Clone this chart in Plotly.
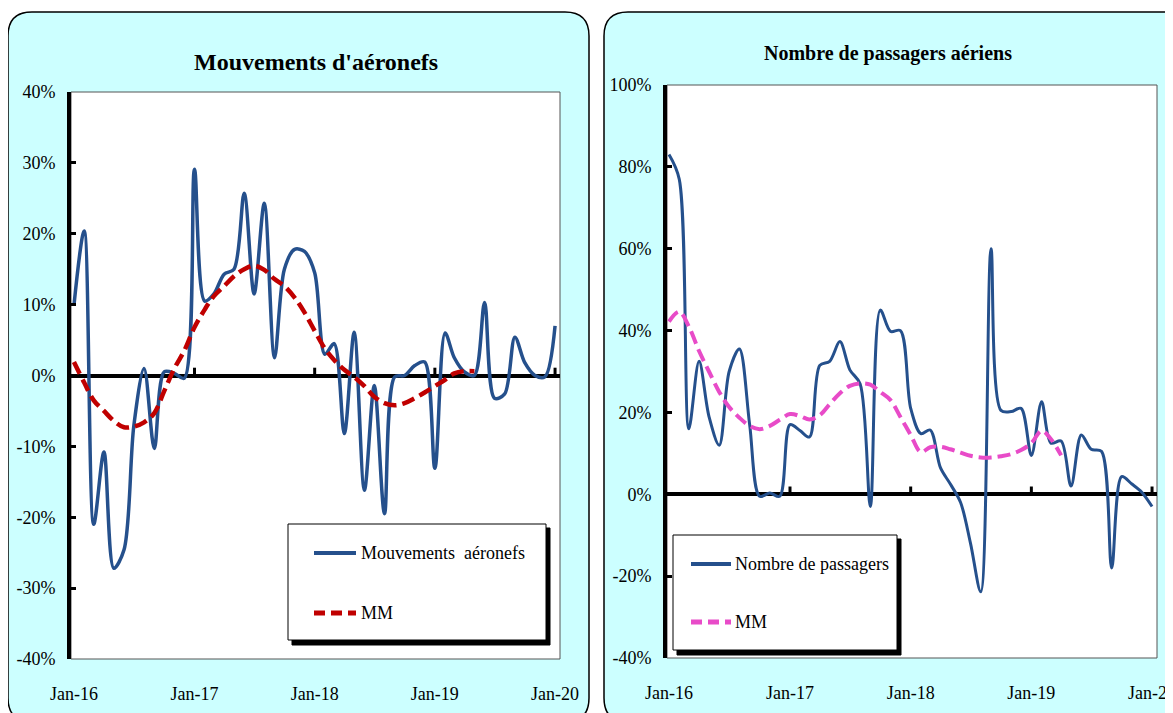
import plotly.graph_objects as go
import pandas as pd

W, H = 1173, 713
OFF = 8  # page margin around the plot div

# monthly dates Jan-16 .. Jan-20
months = pd.date_range("2016-01-01", "2020-01-01", freq="MS")

# Mouvements d'aéronefs, glissement annuel (%)
mouvements = [9.9, 20.4, -21, -10.8, -27.2, -24.6, -7, 1, -10.3, 0.5, 0.3, -0.4,
              29.1, 10.5, 11.5, 14.3, 15, 25.7, 11.5, 24.3, 2.5, 15, 17.8, 17.5,
              14.5, 3, 4.5, -8.2, 6.1, -16.2, -1.4, -19.5, -0.2, 0, 1.4, 1.9,
              -13.1, 6, 2.5, 0.5, 0, 10.3, -3.2, -2.6, 5.4, 1.8, 0, -0.2, 7]
mm_mouvements = [1.9, -1, -3.5, -5, -6.4, -7.3, -7.2, -6.6, -5.3, -2.2, 1, 3.5,
                 6.8, 9.3, 11.2, 12.6, 14, 15, 15.5, 14.9, 13.6, 12.6, 11, 8.9,
                 6.3, 3.8, 2.2, 0.8, -0.2, -1.5, -3, -3.9, -4.2, -3.9, -3.2, -2.4,
                 -1.5, -0.6, 0.3, 0.6, 0.6]

# Nombre de passagers aériens, glissement annuel (%)
passagers = [83, 77, 16, 32.5, 19, 12, 30, 35.5, 17, -0.5, 0.3, -0.5,
             17, 15.5, 14, 31.5, 32.5, 37.3, 30.4, 27, -3, 45, 39.8, 40,
             21, 14.8, 15.7, 6.5, 2.5, -2, -12, -23.8, 60, 20.5, 20.2, 21,
             9.5, 22.6, 12.5, 13, 2, 14.5, 11, 10.5, -18, 4.3, 2.5, 0.5, -3]
mm_passagers = [42.2, 44.6, 41, 35, 30, 25, 21.3, 18.7, 16.7, 15.9, 16.7, 18.2,
                19.6, 19.1, 18.3, 19.3, 22, 24.7, 26.5, 27.1, 26.8, 25, 23, 18.9,
                14.5, 10.3, 11.5, 11.6, 11, 10.2, 9.4, 9, 9, 9.3, 9.8, 10.8,
                12.5, 15.5, 13.5, 9.5]

# y tick labels
ticks_left = [-40, -30, -20, -10, 0, 10, 20, 30, 40]
labels_left = ["-40%", "-30%", "-20%", "-10%", "0%", "10%", "20%", "30%", "40%"]
ticks_right = [-40, -20, 0, 20, 40, 60, 80, 100]
labels_right = ["-40%", "-20%", "0%", "20%", "40%", "60%", "80%", "100%"]

BLUE = "#25508C"
RED = "#C00000"
PINK = "#E84BC8"
CYAN = "#CCFFFF"
FONT = "Liberation Serif"


def px(x):
    return (x - OFF) / W


def py(y):
    return 1 - (y - OFF) / H


def rounded(x0, y0, x1, y1, r):
    return (f"M {px(x0 + r)},{py(y0)} L {px(x1 - r)},{py(y0)} "
            f"Q {px(x1)},{py(y0)} {px(x1)},{py(y0 + r)} L {px(x1)},{py(y1 - r)} "
            f"Q {px(x1)},{py(y1)} {px(x1 - r)},{py(y1)} L {px(x0 + r)},{py(y1)} "
            f"Q {px(x0)},{py(y1)} {px(x0)},{py(y1 - r)} L {px(x0)},{py(y0 + r)} "
            f"Q {px(x0)},{py(y0)} {px(x0 + r)},{py(y0)} Z")


def rect(x0, y0, x1, y1, fill, line="black", lw=1, layer="above"):
    return dict(type="rect", xref="paper", yref="paper",
                x0=px(x0), x1=px(x1), y0=py(y1), y1=py(y0),
                fillcolor=fill, line=dict(color=line, width=lw), layer=layer)


def seg(x0, x1, y, color, width, dash="solid"):
    return dict(type="line", xref="paper", yref="paper",
                x0=px(x0), x1=px(x1), y0=py(y), y1=py(y),
                line=dict(color=color, width=width, dash=dash), layer="above")


def label(text, x, y, size, anchor="left"):
    return dict(text=text, x=px(x), y=py(y), xref="paper", yref="paper",
                xanchor=anchor, yanchor="middle", showarrow=False,
                font=dict(family=FONT, size=size, color="black"))


fig = go.Figure()

fig.add_trace(go.Scatter(x=months, y=mouvements, mode="lines", name="Mouvements  aéronefs",
                         line=dict(color=BLUE, width=3.5, shape="spline", smoothing=0.9),
                         xaxis="x", yaxis="y"))
fig.add_trace(go.Scatter(x=months[:len(mm_mouvements)], y=mm_mouvements, mode="lines", name="MM",
                         line=dict(color=RED, width=4.5, dash="13px,6px", shape="spline"),
                         xaxis="x", yaxis="y"))
fig.add_trace(go.Scatter(x=months, y=passagers, mode="lines", name="Nombre de passagers",
                         line=dict(color=BLUE, width=3, shape="spline", smoothing=0.9),
                         xaxis="x2", yaxis="y2"))
fig.add_trace(go.Scatter(x=months[:len(mm_passagers)], y=mm_passagers, mode="lines", name="MM",
                         line=dict(color=PINK, width=4, dash="13px,6px", shape="spline"),
                         xaxis="x2", yaxis="y2"))

xcommon = dict(type="date", dtick="M12", tick0="2016-01-01", tickformat="%b-%y",
               showgrid=False, zeroline=False, showline=False, automargin=False,
               ticks="outside", ticklen=18, tickcolor="rgba(0,0,0,0)",
               tickfont=dict(family=FONT, size=18, color="black"))
ycommon = dict(showgrid=False, zeroline=True, zerolinecolor="black", zerolinewidth=4,
               showline=True, linecolor="black", linewidth=4, automargin=False,
               ticks="inside", ticklen=5, tickwidth=3, tickcolor="black",
               tickmode="array", ticklabelstandoff=8,
               tickfont=dict(family=FONT, size=18, color="black"))

shapes = [
    dict(type="path", xref="paper", yref="paper", path=rounded(8, 12, 589, 722, 24),
         fillcolor=CYAN, line=dict(color="black", width=1.5), layer="below"),
    dict(type="path", xref="paper", yref="paper", path=rounded(604, 12, 1200, 722, 24),
         fillcolor=CYAN, line=dict(color="black", width=1.5), layer="below"),
    rect(71, 92, 560, 659, "white", "#555555", 1, "below"),
    rect(667, 85, 1157, 658, "white", "#555555", 1, "below"),
    # legend boxes with shadow
    rect(292, 528, 550, 645, "black", "black", 1),
    rect(288, 524, 546, 640, "white", "black", 1),
    rect(677, 539, 901, 655, "black", "black", 1),
    rect(673, 535, 897, 650, "white", "black", 1),
    seg(314, 356, 553, BLUE, 4),
    seg(314, 356, 613, RED, 5, "11px,6px"),
    seg(691, 731, 564, BLUE, 4),
    seg(691, 731, 622, PINK, 5, "11px,6px"),
]
# small tick marks on the zero line
for d in months[12::12]:
    shapes.append(dict(type="line", xref="x", yref="y", x0=d, x1=d, y0=0, y1=1.1,
                       line=dict(color="black", width=3)))
    shapes.append(dict(type="line", xref="x2", yref="y2", x0=d, x1=d, y0=0, y1=1.9,
                       line=dict(color="black", width=3)))

annotations = [
    label("<b>Mouvements d'aéronefs</b>", 316, 62, 24, "center"),
    label("<b>Nombre de passagers aériens</b>", 888, 54, 20, "center"),
    label("Mouvements\u00a0 aéronefs", 359, 553, 18),
    label("MM", 359, 613, 18),
    label("Nombre de passagers", 733, 564, 18),
    label("MM", 733, 622, 18),
]

fig.update_layout(
    width=W, height=H, autosize=False,
    margin=dict(l=0, r=0, t=0, b=0, autoexpand=False),
    paper_bgcolor="white", plot_bgcolor="rgba(0,0,0,0)",
    showlegend=False,
    xaxis=dict(xcommon, domain=[px(71), px(560)], anchor="y",
               range=["2015-12-23", "2020-01-16"]),
    yaxis=dict(ycommon, domain=[py(659), py(92)], anchor="x",
               range=[-40, 40], tickvals=ticks_left, ticktext=labels_left),
    xaxis2=dict(xcommon, domain=[px(667), px(1157)], anchor="y2",
                range=["2015-12-26", "2020-01-16"]),
    yaxis2=dict(ycommon, domain=[py(658), py(85)], anchor="x2",
                range=[-40, 100], tickvals=ticks_right, ticktext=labels_right),
    shapes=shapes,
    annotations=annotations,
)

fig.write_html("out.html")
